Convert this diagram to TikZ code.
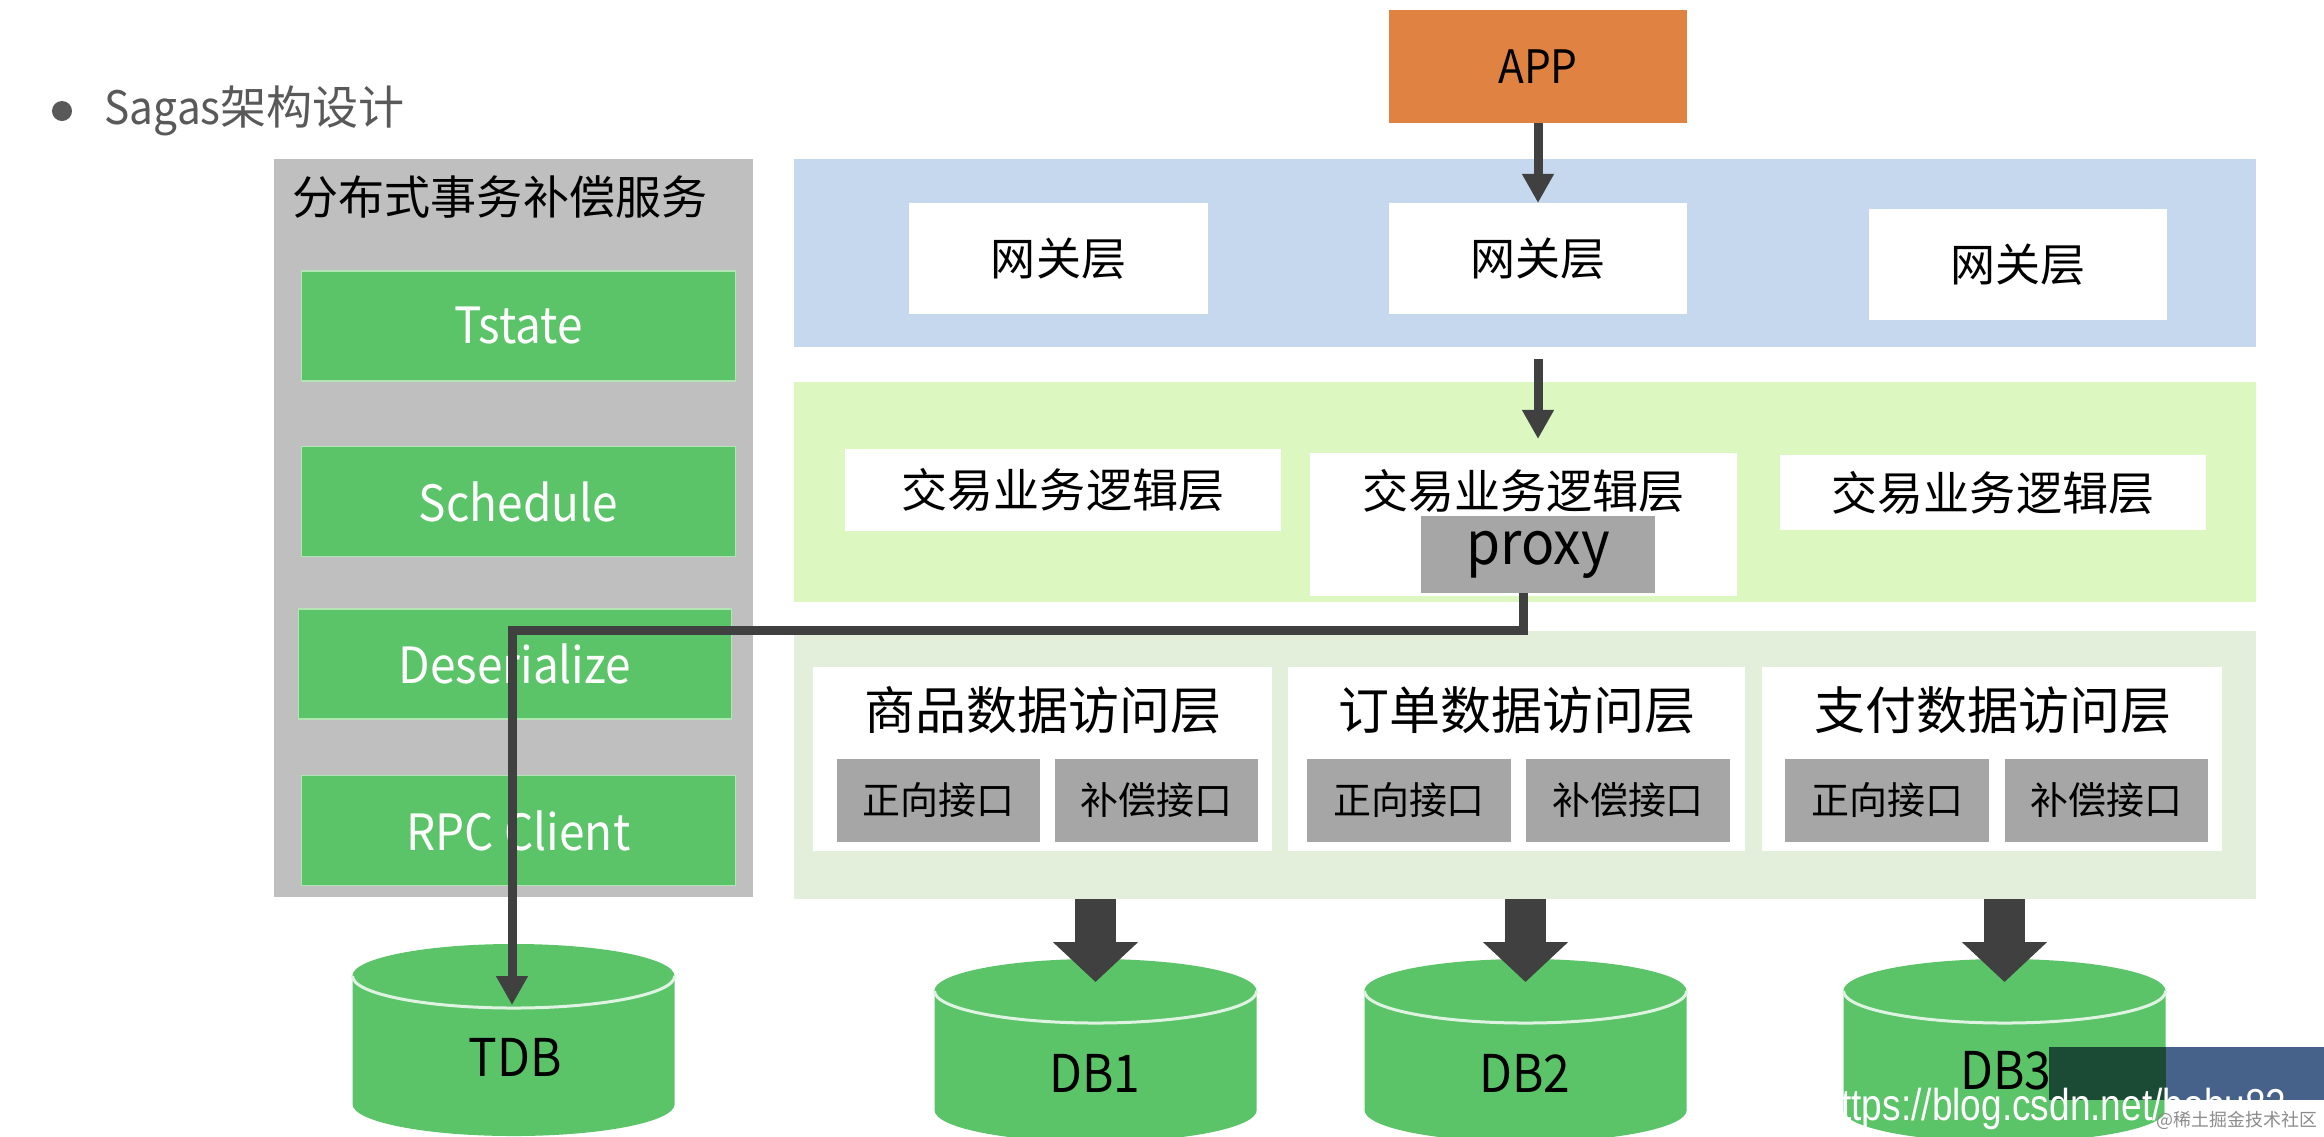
\documentclass[tikz,border=0pt]{standalone}
\usepackage{fontspec}
\setmainfont{Noto Sans CJK SC}
\newfontfamily\latinfont[FakeStretch=0.92]{Noto Sans CJK SC}
\newfontfamily\wmfont[FakeStretch=0.83]{Liberation Sans}
\usetikzlibrary{arrows.meta}
\newcommand{\setfs}[1]{\fontsize{#1pt}{#1pt}\selectfont}
\definecolor{bandblue}{RGB}{197,216,238}
\definecolor{bandlime}{RGB}{221,247,193}
\definecolor{banddata}{RGB}{227,239,218}
\definecolor{svcgray}{RGB}{191,191,191}
\definecolor{boxgreen}{RGB}{91,196,104}
\definecolor{boxgreenedge}{RGB}{178,228,180}
\definecolor{apporange}{RGB}{224,131,66}
\definecolor{ifgray}{RGB}{166,166,166}
\definecolor{arrowdark}{RGB}{64,64,64}
\definecolor{titlegray}{RGB}{89,89,89}
\definecolor{wmgreen}{RGB}{27,75,52}
\definecolor{wmblue}{RGB}{70,98,138}
\definecolor{wmgray}{RGB}{140,140,140}
\newcommand{\dbcyl}[3]{%
  \fill[boxgreen] (#1-161,#2) -- (#1-161,#3) arc[start angle=180,end angle=360,x radius=1.61cm,y radius=0.32cm]
    -- (#1+161,#2) arc[start angle=0,end angle=180,x radius=1.61cm,y radius=0.32cm] -- cycle;
  \draw[white!80!boxgreen, line width=0.3mm] (#1-161,#2) arc[start angle=180,end angle=360,x radius=1.61cm,y radius=0.32cm];}
\begin{document}
\begin{tikzpicture}[x=0.01cm,y=-0.01cm,
  band/.style={rectangle, inner sep=0pt, outer sep=0pt, draw=none},
  gbox/.style={rectangle, inner sep=0pt, outer sep=0pt, fill=boxgreen, draw=boxgreenedge, line width=0.12mm,
     minimum width=4.33cm, minimum height=1.10cm, text=white, font=\latinfont\setfs{14.2}},
  wbox/.style={rectangle, inner sep=0pt, outer sep=0pt, fill=white, draw=none},
  ifbox/.style={rectangle, inner sep=0pt, outer sep=0pt, fill=ifgray, draw=none,
     minimum width=2.03cm, minimum height=0.83cm, font=\setfs{10.8}},
  gwtext/.style={font=\setfs{12.8}},
  lgtext/.style={font=\setfs{13.1}},
  datext/.style={font=\setfs{14.5}},
  dbtext/.style={font=\latinfont\setfs{14.8}},
  thinarrow/.style={draw=arrowdark, line width=0.9mm, -{Triangle[width=3.0mm,length=2.9mm]}},
  bigarrow/.style={draw=arrowdark, line width=4.1mm, -{Triangle[width=8.3mm,length=4.0mm]}}]
\useasboundingbox (0,0) rectangle (2324,1136);
\clip (0,0) rectangle (2324,1136);
\fill[white] (0,0) rectangle (2324,1136);

% title
\node[circle, fill=titlegray, minimum size=0.2cm, inner sep=0pt] (bullet) at (62,111) {};
\node[anchor=west, inner sep=0pt, text=titlegray, font=\setfs{13.1}] (title) at (104,111) {{\latinfont Sagas}架构设计};

% bands
\node[band, fill=bandblue, minimum width=14.62cm, minimum height=1.88cm] (gwband) at (1525,253) {};
\node[band, fill=bandlime, minimum width=14.62cm, minimum height=2.20cm] (lgband) at (1525,492) {};
\node[band, fill=banddata, minimum width=14.62cm, minimum height=2.68cm] (databand) at (1525,765) {};

% compensation service
\node[band, fill=svcgray, minimum width=4.79cm, minimum height=7.38cm] (svc) at (513.5,528) {};
\node[anchor=west, inner sep=0pt, font=\setfs{13.1}] (svctitle) at (292,197) {分布式事务补偿服务};
\node[gbox] (tstate) at (518.5,326) {Tstate};
\node[gbox] (schedule) at (518.5,501.5) {Schedule};
\node[gbox, minimum width=4.32cm] (deser) at (515,664) {Deserialize};
\node[gbox] (rpc) at (518.5,830.5) {RPC Client};

% app
\node[band, fill=apporange, minimum width=2.98cm, minimum height=1.13cm, font=\latinfont\setfs{13.1}] (app) at (1538,66.5) {APP};

% gateway
\node[wbox, gwtext, minimum width=2.99cm, minimum height=1.11cm] (gw1) at (1058.5,258.5) {网关层};
\node[wbox, gwtext, minimum width=2.98cm, minimum height=1.11cm] (gw2) at (1538,258.5) {网关层};
\node[wbox, gwtext, minimum width=2.98cm, minimum height=1.11cm] (gw3) at (2018,264.5) {网关层};

% logic
\node[wbox, lgtext, minimum width=4.36cm, minimum height=0.82cm] (lg1) at (1063,490) {交易业务逻辑层};
\node[wbox, minimum width=4.27cm, minimum height=1.43cm] (lg2) at (1523.5,524.5) {};
\node[lgtext, inner sep=0pt] (lg2t) at (1523.5,491) {交易业务逻辑层};
\node[wbox, lgtext, minimum width=4.26cm, minimum height=0.75cm] (lg3) at (1993,492.5) {交易业务逻辑层};
\node[band, fill=ifgray, minimum width=2.34cm, minimum height=0.77cm, font=\latinfont\setfs{17}] (proxy) at (1538,554.5) {proxy};

% data access
\node[wbox, minimum width=4.59cm, minimum height=1.84cm] (da1) at (1042.5,759) {};
\node[wbox, minimum width=4.57cm, minimum height=1.84cm] (da2) at (1516.5,759) {};
\node[wbox, minimum width=4.60cm, minimum height=1.84cm] (da3) at (1992,759) {};
\node[datext, inner sep=0pt] (da1t) at (1043,710) {商品数据访问层};
\node[datext, inner sep=0pt] (da2t) at (1517,710) {订单数据访问层};
\node[datext, inner sep=0pt] (da3t) at (1993,710) {支付数据访问层};
\node[ifbox] (f1) at (938.5,800.5) {正向接口};
\node[ifbox] (c1) at (1156.5,800.5) {补偿接口};
\node[ifbox] (f2) at (1409,800.5) {正向接口};
\node[ifbox] (c2) at (1628,800.5) {补偿接口};
\node[ifbox] (f3) at (1887,800.5) {正向接口};
\node[ifbox] (c3) at (2106.5,800.5) {补偿接口};

% databases
\dbcyl{513.5}{976}{1104}
\dbcyl{1095.5}{991}{1110}
\dbcyl{1525.5}{991}{1110}
\dbcyl{2004.5}{991}{1110}
\coordinate (tdbtop) at (512,944);
\coordinate (db1top) at (1095.5,959);
\coordinate (db2top) at (1525.5,959);
\coordinate (db3top) at (2004.5,959);
\node[dbtext, inner sep=0pt] (tdb) at (515,1057) {TDB};
\node[dbtext, inner sep=0pt] (db1) at (1095,1073) {DB1};
\node[dbtext, inner sep=0pt] (db2) at (1525,1073) {DB2};
\node[dbtext, inner sep=0pt] (db3) at (2006,1071) {DB3};

% connectors
\draw[thinarrow] (app.south) -- (gw2.north);
\draw[thinarrow, shorten <=1.2mm, shorten >=1.4mm] (gwband.south -| gw2.south) -- (lg2.north -| gw2.south);
\draw[thinarrow] ([xshift=-1.5mm]proxy.south) -- ++(0,37) -| ([yshift=-6.1mm]tdbtop);
\draw[bigarrow] (databand.south -| db1top) -- ([yshift=-2.3mm]db1top);
\draw[bigarrow] (databand.south -| db2top) -- ([yshift=-2.3mm]db2top);
\draw[bigarrow] (databand.south -| db3top) -- ([yshift=-2.3mm]db3top);

% watermark
\fill[wmgreen] (2049,1047) rectangle (2165.5,1100);
\fill[wmblue] (2165.5,1047) rectangle (2324,1100);
\node[anchor=base west, inner sep=0pt, text=white, font=\wmfont\setfs{12.7}] (wm) at (1820,1120) {https://blog.csdn.net/bobu82};
\node[anchor=east, inner sep=0pt, text=wmgray, font=\setfs{5.1}] (wm2) at (2318,1120) {@稀土掘金技术社区};
\end{tikzpicture}
\end{document}
